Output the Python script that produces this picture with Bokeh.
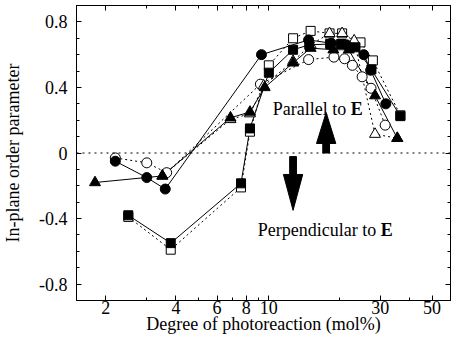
from bokeh.plotting import figure
from bokeh.models import (LogAxis, LinearAxis, FixedTicker, Range1d, Span, Label,
                          PolyAnnotation)
from bokeh.embed import file_html
from bokeh.resources import INLINE

# ---------------- data ----------------
fc_x = [2.2, 3.0, 3.6, 9.3, 14.8, 18.5, 21.5, 25.5, 27.3, 31.7]
fc_y = [-0.05, -0.15, -0.22, 0.60, 0.69, 0.67, 0.66, 0.60, 0.505, 0.30]

oc_x = [2.2, 3.0, 3.65, 9.2, 14.8, 19.0, 21.1, 22.8, 25.1, 27.4, 31.5]
oc_y = [-0.03, -0.06, -0.12, 0.42, 0.57, 0.585, 0.575, 0.535, 0.465, 0.395, 0.17]

fs_x = [2.5, 3.8, 7.6, 8.3, 10.0, 12.7, 14.9, 18.3, 20.4, 23.5, 27.5, 36.6]
fs_y = [-0.38, -0.55, -0.185, 0.15, 0.49, 0.63, 0.66, 0.665, 0.665, 0.645, 0.51, 0.225]

os_x = [2.5, 3.8, 7.6, 8.3, 10.0, 12.7, 15.1, 18.2, 20.6, 24.7, 27.9, 36.6]
os_y = [-0.39, -0.59, -0.21, 0.13, 0.535, 0.70, 0.745, 0.73, 0.73, 0.675, 0.565, 0.23]

ft_x = [1.8, 3.5, 6.85, 8.3, 9.6, 12.7, 15.1, 18.9, 22.0, 28.5, 35.5]
ft_y = [-0.18, -0.14, 0.215, 0.25, 0.40, 0.55, 0.64, 0.63, 0.63, 0.35, 0.09]

ot_x = [3.5, 6.85, 8.3, 9.5, 12.7, 15.1, 18.2, 20.6, 23.2, 28.5, 35.5]
ot_y = [-0.14, 0.205, 0.24, 0.41, 0.56, 0.66, 0.73, 0.73, 0.685, 0.115, 0.09]

X_TICKS = [2, 4, 6, 8, 10, 30, 50]
X_TICK_LABELS = ["2", "4", "6", "8", "10", "30", "50"]
X_MINOR = [3, 5, 7, 9, 20, 40]
Y_TICKS = [-0.8, -0.4, 0.0, 0.4, 0.8]
Y_TICK_LABELS = ["-0.8", "-0.4", "0", "0.4", "0.8"]
Y_MINOR = [-0.9, -0.7, -0.6, -0.5, -0.3, -0.2, -0.1, 0.1, 0.2, 0.3, 0.5, 0.6, 0.7, 0.9]

X_LABEL = "Degree of photoreaction (mol%)"
Y_LABEL = "In-plane order parameter"

# annotation placement (data coordinates)
UP_ARROW = dict(x=17.6, y0=0.0, ybase=0.058, ytip=0.247)
DOWN_ARROW = dict(x=12.7, y0=-0.022, ybase=-0.131, ytip=-0.35)
HEAD_HALF = 1.10   # multiplicative half-width on the log axis
SHAFT_HALF = 1.034
PAR_POS = (10.4, 0.267)
PERP_POS = (8.97, -0.47)

FONT = "'Liberation Serif', 'Times New Roman', serif"

p = figure(width=452, height=336, x_axis_type="log",
           x_range=Range1d(1.5, 60), y_range=Range1d(-0.9, 0.9),
           output_backend="svg", toolbar_location=None,
           min_border_left=76, min_border_right=2, min_border_top=5, min_border_bottom=0)
p.xgrid.visible = False
p.ygrid.visible = False
p.outline_line_color = "black"
p.outline_line_width = 1
p.background_fill_color = "white"
p.border_fill_color = "white"

def style_axis(ax, show_labels):
    ax.major_tick_in = 5
    ax.major_tick_out = 0
    ax.minor_tick_in = 3
    ax.minor_tick_out = 0
    ax.axis_line_color = "black"
    ax.major_tick_line_color = "black"
    ax.minor_tick_line_color = "black"
    ax.major_label_text_font = FONT
    ax.major_label_text_color = "black"
    ax.axis_label_text_font = FONT
    ax.axis_label_text_font_style = "normal"
    ax.axis_label_text_font_size = "18px"
    ax.axis_label_text_color = "black"
    ax.major_label_text_font_size = "18px"

xt = FixedTicker(ticks=X_TICKS, minor_ticks=X_MINOR)
yt = FixedTicker(ticks=Y_TICKS, minor_ticks=Y_MINOR)

p.xaxis.ticker = xt
p.yaxis.ticker = yt
p.xaxis.major_label_overrides = {float(t): l for t, l in zip(X_TICKS, X_TICK_LABELS)}
p.yaxis.major_label_overrides = {float(t): l for t, l in zip(Y_TICKS, Y_TICK_LABELS)}
style_axis(p.xaxis[0], True)
style_axis(p.yaxis[0], True)
p.xaxis.axis_label = X_LABEL
p.yaxis.axis_label = Y_LABEL
p.xaxis.major_label_standoff = 0
p.xaxis.axis_label_standoff = -3
p.yaxis.major_label_standoff = 9
p.yaxis.axis_label_standoff = 13

top = LogAxis(ticker=FixedTicker(ticks=X_TICKS, minor_ticks=X_MINOR))
style_axis(top, False)
top.major_label_overrides = {float(t): "" for t in X_TICKS}
top.major_label_standoff = 4
p.add_layout(top, "above")
right = LinearAxis(ticker=FixedTicker(ticks=Y_TICKS, minor_ticks=Y_MINOR))
style_axis(right, False)
right.major_label_overrides = {float(t): "" for t in Y_TICKS}
right.major_label_standoff = 0
p.add_layout(right, "right")

p.add_layout(Span(location=0, dimension="width", line_color="black",
                  line_dash="2 4", line_width=1))

# dotted series with open markers
for xs, ys in [(oc_x, oc_y), (os_x, os_y), (ot_x, ot_y)]:
    p.line(xs, ys, line_color="black", line_dash="2 3", line_width=1)
for xs, ys in [(fc_x, fc_y), (fs_x, fs_y), (ft_x, ft_y)]:
    p.line(xs, ys, line_color="black", line_width=1)
for xs, ys, mk, sz in [(oc_x, oc_y, "circle", 10), (os_x, os_y, "square", 9),
                       (ot_x, ot_y, "triangle", 11)]:
    p.scatter(xs, ys, marker=mk, size=sz, fill_color="white", line_color="black", line_width=1)
for xs, ys, mk, sz in [(fc_x, fc_y, "circle", 10), (fs_x, fs_y, "square", 9),
                       (ft_x, ft_y, "triangle", 11)]:
    p.scatter(xs, ys, marker=mk, size=sz, fill_color="black", line_color="black", line_width=1)

def arrow(a):
    x = a["x"]
    xs = [x / SHAFT_HALF, x / SHAFT_HALF, x / HEAD_HALF, x, x * HEAD_HALF,
          x * SHAFT_HALF, x * SHAFT_HALF]
    ys = [a["y0"], a["ybase"], a["ybase"], a["ytip"], a["ybase"], a["ybase"], a["y0"]]
    return PolyAnnotation(xs=xs, ys=ys, fill_color="black", fill_alpha=1,
                          line_color="black", line_width=1, line_alpha=1)

p.add_layout(arrow(UP_ARROW))
p.add_layout(arrow(DOWN_ARROW))

def two_part_label(pos, text, offset):
    p.add_layout(Label(x=pos[0], y=pos[1], text=text, text_font=FONT,
                       text_font_size="18px", text_color="black",
                       text_baseline="alphabetic"))
    p.add_layout(Label(x=pos[0], y=pos[1], x_offset=offset, text="E", text_font=FONT,
                       text_font_size="18px", text_font_style="bold", text_color="black",
                       text_baseline="alphabetic"))

two_part_label(PAR_POS, "Parallel to ", 78)
two_part_label(PERP_POS, "Perpendicular to ", 123)

open("out.html", "w").write(file_html(p, INLINE))
